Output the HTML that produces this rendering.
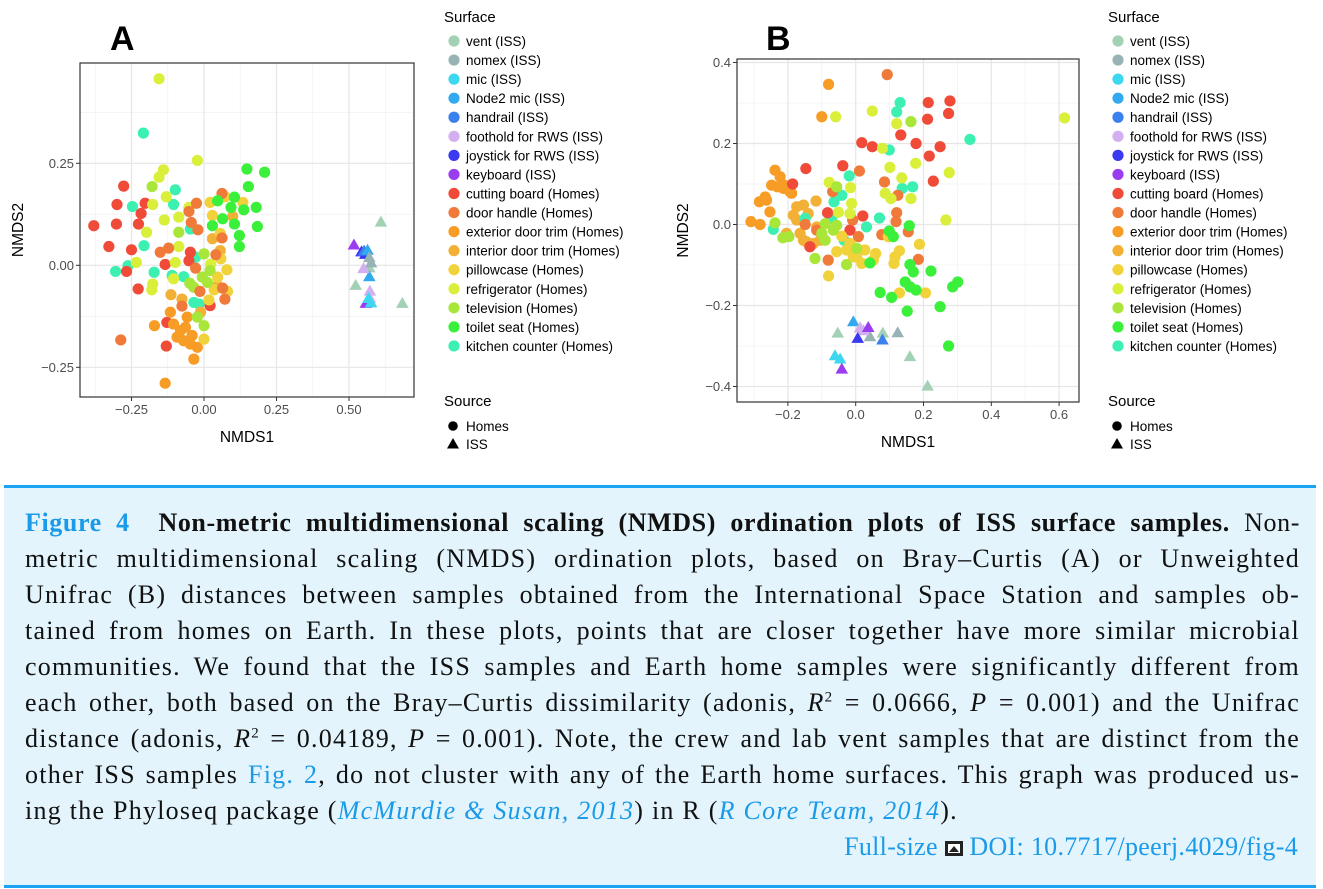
<!DOCTYPE html>
<html><head><meta charset="utf-8">
<style>
body{margin:0;width:1323px;height:889px;background:#fff;overflow:hidden;font-family:"Liberation Sans",sans-serif;}
#fig{position:absolute;left:0;top:0;}
#cap{position:absolute;left:4px;top:485px;width:1312px;height:397px;background:#e3f4fc;border-top:3px solid #1aa3f2;border-bottom:3px solid #1aa3f2;font-family:"Liberation Serif",serif;font-size:26px;letter-spacing:1.25px;color:#111;}
.ln{position:absolute;left:21px;width:1275px;white-space:nowrap;}
.j{text-align:justify;text-align-last:justify;white-space:normal;}
.blue{color:#1a9ae8;}
i.blue{font-style:italic;}
</style></head><body>
<svg id="fig" width="1323" height="480"></svg>
<div id="cap">
<div class="ln j" style="top:20px;letter-spacing:0.6px"><b class="blue">Figure 4</b>&nbsp; <b>Non-metric multidimensional scaling (NMDS) ordination plots of ISS surface samples.</b> Non-</div>
<div class="ln j" style="top:56px">metric multidimensional scaling (NMDS) ordination plots, based on Bray–Curtis (A) or Unweighted</div>
<div class="ln j" style="top:92px">Unifrac (B) distances between samples obtained from the International Space Station and samples ob-</div>
<div class="ln j" style="top:128px">tained from homes on Earth. In these plots, points that are closer together have more similar microbial</div>
<div class="ln j" style="top:164px">communities. We found that the ISS samples and Earth home samples were significantly different from</div>
<div class="ln j" style="top:200px">each other, both based on the Bray–Curtis dissimilarity (adonis, <i>R</i><sup style="font-size:15px">2</sup> = 0.0666, <i>P</i> = 0.001) and the Unifrac</div>
<div class="ln j" style="top:236px">distance (adonis, <i>R</i><sup style="font-size:15px">2</sup> = 0.04189, <i>P</i> = 0.001). Note, the crew and lab vent samples that are distinct from the</div>
<div class="ln j" style="top:272px">other ISS samples <span class="blue">Fig. 2</span>, do not cluster with any of the Earth home surfaces. This graph was produced us-</div>
<div class="ln" style="top:308px">ing the Phyloseq package (<i class="blue">McMurdie &amp; Susan, 2013</i>) in R (<i class="blue">R Core Team, 2014</i>).</div>
<div class="ln" style="top:344px;left:auto;right:18px;width:auto;letter-spacing:0.3px" ><span class="blue">Full-size</span> <span style="display:inline-block;width:18px;height:15px;background:#222;vertical-align:-1px;border:1px solid #222;box-sizing:border-box;position:relative"><span style="position:absolute;left:2px;top:2px;right:2px;bottom:2px;background:#fff"></span><span style="position:absolute;left:3px;bottom:3px;width:0;height:0;border-left:5px solid transparent;border-right:5px solid transparent;border-bottom:6px solid #222"></span></span> <span class="blue">DOI: 10.7717/peerj.4029/fig-4</span></div>
</div>
<script>
const surfaceNames=["vent (ISS)","nomex (ISS)","mic (ISS)","Node2 mic (ISS)","handrail (ISS)","foothold for RWS (ISS)","joystick for RWS (ISS)","keyboard (ISS)","cutting board (Homes)","door handle (Homes)","exterior door trim (Homes)","interior door trim (Homes)","pillowcase (Homes)","refrigerator (Homes)","television (Homes)","toilet seat (Homes)","kitchen counter (Homes)"];
const surfaceColors=["#a3d1b5","#97b3b5","#3dd8f0","#33aaf0","#3a80ee","#d3aef0","#3a3af0","#9a3cf0","#f04a38","#f07a3a","#f79c24","#f2b136","#f2d23a","#d9ef3a","#a9e63a","#3af03a","#3cf0b2"];
const isISS=[1,1,1,1,1,1,1,1,0,0,0,0,0,0,0,0,0];
const xTicksA=[-0.25,0,0.25,0.5];
const xTickLabelsA=["−0.25","0.00","0.25","0.50"];
const yTicksA=[-0.25,0,0.25];
const yTickLabelsA=["−0.25","0.00","0.25"];
const xTicksB=[-0.2,0,0.2,0.4,0.6];
const xTickLabelsB=["−0.2","0.0","0.2","0.4","0.6"];
const yTicksB=[-0.4,-0.2,0,0.2,0.4];
const yTickLabelsB=["−0.4","−0.2","0.0","0.2","0.4"];
// [surfaceIndex, NMDS1, NMDS2]
const pointsA=[
[13,-0.155,0.457],[16,-0.209,0.324],[13,-0.023,0.257],
[16,-0.247,0.144],[16,-0.207,0.048],[16,-0.305,-0.015],[16,-0.262,-0.001],[16,-0.172,-0.017],[16,-0.099,0.185],[16,-0.105,0.149],[16,-0.047,0.089],[16,-0.110,-0.025],[16,-0.070,-0.028],[16,-0.029,0.020],[16,-0.017,-0.095],[16,-0.035,-0.091],
[8,-0.380,0.097],[8,-0.277,0.194],[8,-0.300,0.149],[8,-0.302,0.101],[8,-0.328,0.046],[8,-0.250,0.038],[8,-0.267,-0.015],[8,-0.226,0.101],[8,-0.217,0.127],[8,-0.203,0.152],[8,-0.227,-0.058],[8,-0.134,0.002],[8,-0.128,-0.140],[8,-0.130,-0.198],[8,-0.047,0.032],[8,0.021,-0.099],[8,-0.052,0.011],
[10,-0.171,-0.148],[10,-0.134,-0.289],[10,-0.035,-0.230],[10,-0.081,-0.160],[10,-0.058,-0.127],[10,-0.093,-0.176],[10,-0.047,-0.193],[10,-0.023,-0.201],[10,-0.064,-0.152],[10,-0.105,-0.144],[10,-0.041,-0.172],[10,-0.070,-0.185],[10,-0.116,-0.115],
[11,-0.114,-0.072],[11,-0.076,-0.083],[11,-0.012,-0.115],[11,0.047,-0.050],[11,0.056,0.036],[11,0.029,0.065],[11,0.099,0.120],
[12,0.021,0.154],[12,0.073,0.168],[12,0.134,0.154],[12,0.029,0.122],[12,0.058,0.016],[12,0.079,-0.011],[12,0.047,-0.029],[12,0.081,-0.064],[12,0,-0.181],[12,0.017,-0.085],[12,0.035,-0.060],[12,0.056,0.078],
[13,-0.140,0.234],[13,-0.155,0.216],[13,-0.177,0.149],[13,-0.198,0.081],[13,-0.233,0.007],[13,-0.177,-0.046],[13,-0.180,-0.060],[13,-0.137,0.111],[13,-0.099,0.007],[13,-0.105,-0.033],[13,-0.087,0.046],[13,-0.052,0.142],[13,-0.087,0.118],[13,0.023,0.003],[13,-0.130,0.168],
[14,-0.179,0.193],[14,-0.087,0.081],[14,-0.049,-0.044],[14,0,0.028],[14,-0.006,-0.029],[14,0,-0.148],[14,-0.023,-0.127],[14,0.012,-0.042],[14,0.021,-0.013],[14,-0.035,-0.054],
[9,-0.287,-0.183],[9,-0.026,0.152],[9,-0.052,0.132],[9,-0.044,0.105],[9,-0.021,0.087],[9,-0.151,0.032],[9,-0.122,0.042],[9,-0.029,-0.007],[9,0.041,0.026],[9,0.062,0.067],[9,0.062,0.176],[9,0.072,-0.083],[9,0.064,-0.056],[9,-0.014,-0.064],[9,-0.076,-0.100],
[15,0.148,0.236],[15,0.209,0.228],[15,0.153,0.193],[15,0.184,0.095],[15,0.122,0.073],[15,0.122,0.046],[15,0.180,0.142],[15,0.137,0.136],[15,0.105,0.167],[15,0.093,0.142],[15,0.064,0.114],[15,0.029,0.097],[15,0.105,0.101],[15,0.047,0.158],
[0,0.610,0.107],[0,0.523,-0.048],[0,0.684,-0.092],[0,0.570,-0.005],[7,0.517,0.051],[7,0.558,-0.092],[6,0.543,0.034],[6,0.556,0.028],[4,0.552,0.036],[3,0.564,0.038],[3,0.570,-0.027],[1,0.570,0.020],[1,0.576,0.007],[5,0.550,-0.007],[5,0.572,-0.062],[5,0.572,-0.080],[2,0.576,-0.091],[2,0.567,-0.080]
];
const pointsB=[
[10,-0.080,0.346],[10,-0.100,0.266],[10,-0.309,0.007],[10,-0.282,0],[10,-0.284,0.056],[10,-0.267,0.068],[10,-0.238,0.134],[10,-0.248,0.097],[10,-0.223,0.118],[10,-0.213,0.089],[10,-0.194,0.081],[10,-0.189,0.077],[10,-0.253,0.031],[10,-0.231,0.093],[10,-0.263,0.060],[10,-0.210,0.097],
[11,-0.174,0.044],[11,-0.154,0.048],[11,-0.117,0.058],[11,-0.174,0.011],[11,-0.164,-0.022],[11,-0.145,-0.043],[11,-0.125,-0.047],[11,-0.115,-0.006],[11,-0.184,0.023],[11,-0.154,-0.039],[11,-0.140,0.027],[11,-0.105,-0.039],[11,-0.204,-0.022],
[16,0.131,0.301],[16,0.121,0.278],[16,0.099,0.184],[16,-0.019,0.120],[16,0.137,0.089],[16,0.168,0.093],[16,0.337,0.210],[16,0.070,0.016],[16,0.032,-0.006],[16,-0.041,0.072],[16,-0.064,0.056],[16,-0.243,-0.012],[16,-0.149,0.015],[16,-0.034,-0.039],[16,-0.071,0.015],
[8,-0.147,0.138],[8,-0.038,0.145],[8,0.018,0.202],[8,0.049,0.192],[8,0.133,0.221],[8,0.178,0.200],[8,0.214,0.301],[8,0.278,0.305],[8,0.212,0.260],[8,0.274,0.274],[8,0.249,0.192],[8,0.217,0.169],[8,0.229,0.107],[8,-0.186,0.100],[8,-0.083,0.029],[8,0.021,0.021],[8,-0.017,-0.014],[8,-0.135,-0.055],
[9,0.093,0.370],[9,0.011,0.132],[9,0.085,0.105],[9,0.124,0.072],[9,0.121,0.029],[9,0.119,0.007],[9,0.077,-0.025],[9,0.155,-0.018],[9,0.185,-0.086],[9,-0.081,-0.088],[9,0.008,-0.030],[9,-0.149,0],[9,-0.115,-0.014],[9,-0.009,0.011],[9,-0.068,0.081],
[12,-0.080,-0.127],[12,-0.056,-0.067],[12,-0.027,-0.063],[12,0.003,-0.080],[12,0.018,-0.096],[12,0.027,-0.063],[12,0.059,-0.072],[12,0.052,-0.088],[12,0.096,-0.030],[12,0.129,-0.065],[12,0.113,-0.096],[12,0.116,-0.080],[12,0.188,-0.049],[12,0.206,-0.169],[12,0.129,-0.169],[12,-0.007,-0.080],[12,-0.017,-0.047],[12,-0.041,-0.029],
[13,-0.059,0.266],[13,0.049,0.280],[13,0.079,0.188],[13,0.101,0.141],[13,0.136,0.115],[13,0.087,0.077],[13,0.104,0.064],[13,0.163,0.064],[13,0.177,0.151],[13,0.276,0.128],[13,0.266,0.011],[13,0.616,0.263],[13,0.121,0.249],[13,-0.078,0.104],[13,-0.015,0.091],[13,-0.012,0.052],[13,-0.017,0.027],[13,-0.051,0.030],
[14,-0.056,0.093],[14,0.163,0.254],[14,-0.238,0.004],[14,-0.215,-0.033],[14,-0.197,-0.030],[14,-0.120,-0.084],[14,-0.090,0.002],[14,-0.066,-0.014],[14,-0.027,-0.099],[14,0.003,-0.059],[14,-0.090,-0.039],[14,-0.056,-0.002],[14,-0.100,-0.022],
[15,0.072,-0.168],[15,0.106,-0.180],[15,0.152,-0.214],[15,0.158,-0.003],[15,0.160,-0.099],[15,0.170,-0.117],[15,0.146,-0.142],[15,0.160,-0.154],[15,0.178,-0.162],[15,0.222,-0.115],[15,0.249,-0.203],[15,0.286,-0.154],[15,0.301,-0.142],[15,0.274,-0.300],[15,0.099,-0.016],[15,0.111,-0.030],[15,0.042,-0.095],
[0,-0.053,-0.267],[0,0.080,-0.267],[0,0.160,-0.325],[0,0.212,-0.398],[1,0.042,-0.276],[1,0.124,-0.266],[2,-0.061,-0.323],[2,-0.046,-0.331],[3,-0.007,-0.239],[4,0.079,-0.284],[5,0.013,-0.254],[5,0.023,-0.261],[6,0.006,-0.280],[7,0.037,-0.253],[7,-0.041,-0.356]
];
const NS="http://www.w3.org/2000/svg";
const svg=document.getElementById('fig');
function el(tag,attrs,parent){const e=document.createElementNS(NS,tag);for(const k in attrs)e.setAttribute(k,attrs[k]);(parent||svg).appendChild(e);return e;}
function txt(s,attrs,parent){const e=el('text',attrs,parent);e.textContent=s;return e;}

function panel(cfg){
  const g=el('g',{});
  
  
  const sx=v=>cfg.x0+(v-cfg.xmin)/(cfg.xmax-cfg.xmin)*(cfg.x1-cfg.x0);
  const sy=v=>cfg.y1-(v-cfg.ymin)/(cfg.ymax-cfg.ymin)*(cfg.y1-cfg.y0);
  el('rect',{x:cfg.x0,y:cfg.y0,width:cfg.x1-cfg.x0,height:cfg.y1-cfg.y0,fill:'#fff'},g);
  const xt=cfg.xt, yt=cfg.yt;
  const dx=xt[1]-xt[0], dy=yt[1]-yt[0];
  for(let v=xt[0]-dx*2.5;v<cfg.xmax;v+=dx){if(v>cfg.xmin)el('line',{x1:sx(v),x2:sx(v),y1:cfg.y0,y2:cfg.y1,stroke:'#f2f2f2','stroke-width':0.8},g);}
  for(let v=yt[0]-dy*2.5;v<cfg.ymax;v+=dy){if(v>cfg.ymin)el('line',{y1:sy(v),y2:sy(v),x1:cfg.x0,x2:cfg.x1,stroke:'#f2f2f2','stroke-width':0.8},g);}
  for(let v=xt[0]-dx*2;v<cfg.xmax;v+=dx){if(v>cfg.xmin)el('line',{x1:sx(v),x2:sx(v),y1:cfg.y0,y2:cfg.y1,stroke:'#e6e6e6','stroke-width':1.2},g);}
  for(let v=yt[0]-dy*2;v<cfg.ymax;v+=dy){if(v>cfg.ymin)el('line',{y1:sy(v),y2:sy(v),x1:cfg.x0,x2:cfg.x1,stroke:'#e6e6e6','stroke-width':1.2},g);}
  cfg.pts.forEach(p=>{
    const c=surfaceColors[p[0]], X=sx(p[1]), Y=sy(p[2]);
    let m;
    if(isISS[p[0]]) m=el('polygon',{points:`${X},${Y-6} ${X-6.3},${Y+5} ${X+6.3},${Y+5}`,fill:c},g);
    else m=el('circle',{cx:X,cy:Y,r:5.6,fill:c},g);
    
    
  });
  el('rect',{x:cfg.x0,y:cfg.y0,width:cfg.x1-cfg.x0,height:cfg.y1-cfg.y0,fill:'none',stroke:'#333','stroke-width':1.2},g);
  xt.forEach((v,i)=>{el('line',{x1:sx(v),x2:sx(v),y1:cfg.y1,y2:cfg.y1+4,stroke:'#333'},g);
    const t=txt(cfg.xl[i],{x:sx(v),y:cfg.y1+17,'text-anchor':'middle','font-size':13,fill:'#4d4d4d'},g);
    });
  yt.forEach((v,i)=>{el('line',{x1:cfg.x0-4,x2:cfg.x0,y1:sy(v),y2:sy(v),stroke:'#333'},g);
    const t=txt(cfg.yl[i],{x:cfg.x0-6,y:sy(v)+4.5,'text-anchor':'end','font-size':13,fill:'#4d4d4d'},g);
    });
  const xa=txt('NMDS1',{x:(cfg.x0+cfg.x1)/2,y:cfg.y1+45,'text-anchor':'middle','font-size':15.5,fill:'#000'},g);
  
  const ya=txt('NMDS2',{x:0,y:0,'text-anchor':'middle','font-size':15.5,fill:'#000',transform:`translate(${cfg.ytx},${(cfg.y0+cfg.y1)/2}) rotate(-90)`},g);
  
  const pl=txt(cfg.label,{x:cfg.lx,y:50,'font-size':34,'font-weight':'bold',fill:'#000'},g);
  
  const lg=el('g',{},g);
  
  
  txt('Surface',{x:cfg.legx,y:22,'font-size':15,fill:'#000'},lg);
  surfaceNames.forEach((n,i)=>{
    const y=41+i*19.06;
    const e=el('g',{},lg);
    
    
    el('circle',{cx:cfg.legx+10,cy:y,r:5.6,fill:surfaceColors[i]},e);
    txt(n,{x:cfg.legx+22,y:y+5,'font-size':13.5,fill:'#000'},e);
  });
  txt('Source',{x:cfg.legx,y:406,'font-size':15,fill:'#000'},lg);
  const h=el('g',{},lg);
  el('circle',{cx:cfg.legx+9,cy:426,r:4.8,fill:'#000'},h);
  txt('Homes',{x:cfg.legx+22,y:431,'font-size':13.5,fill:'#000'},h);
  const s=el('g',{},lg);
  const X=cfg.legx+9,Y=444;
  el('polygon',{points:`${X},${Y-6} ${X-6},${Y+4.5} ${X+6},${Y+4.5}`,fill:'#000'},s);
  txt('ISS',{x:cfg.legx+22,y:449,'font-size':13.5,fill:'#000'},s);
}
panel({name:'panel-a',x0:80,x1:414,y0:63,y1:397,xmin:-0.4276,xmax:0.7241,ymin:-0.3228,ymax:0.4958,
  xt:xTicksA,xl:xTickLabelsA,yt:yTicksA,yl:yTickLabelsA,pts:pointsA,ytx:23,label:'A',lx:110,legx:444});
panel({name:'panel-b',x0:737,x1:1079,y0:59,y1:402,xmin:-0.3501,xmax:0.6587,ymin:-0.4383,ymax:0.4086,
  xt:xTicksB,xl:xTickLabelsB,yt:yTicksB,yl:yTickLabelsB,pts:pointsB,ytx:688,label:'B',lx:766,legx:1108});
</script>
</body></html>
